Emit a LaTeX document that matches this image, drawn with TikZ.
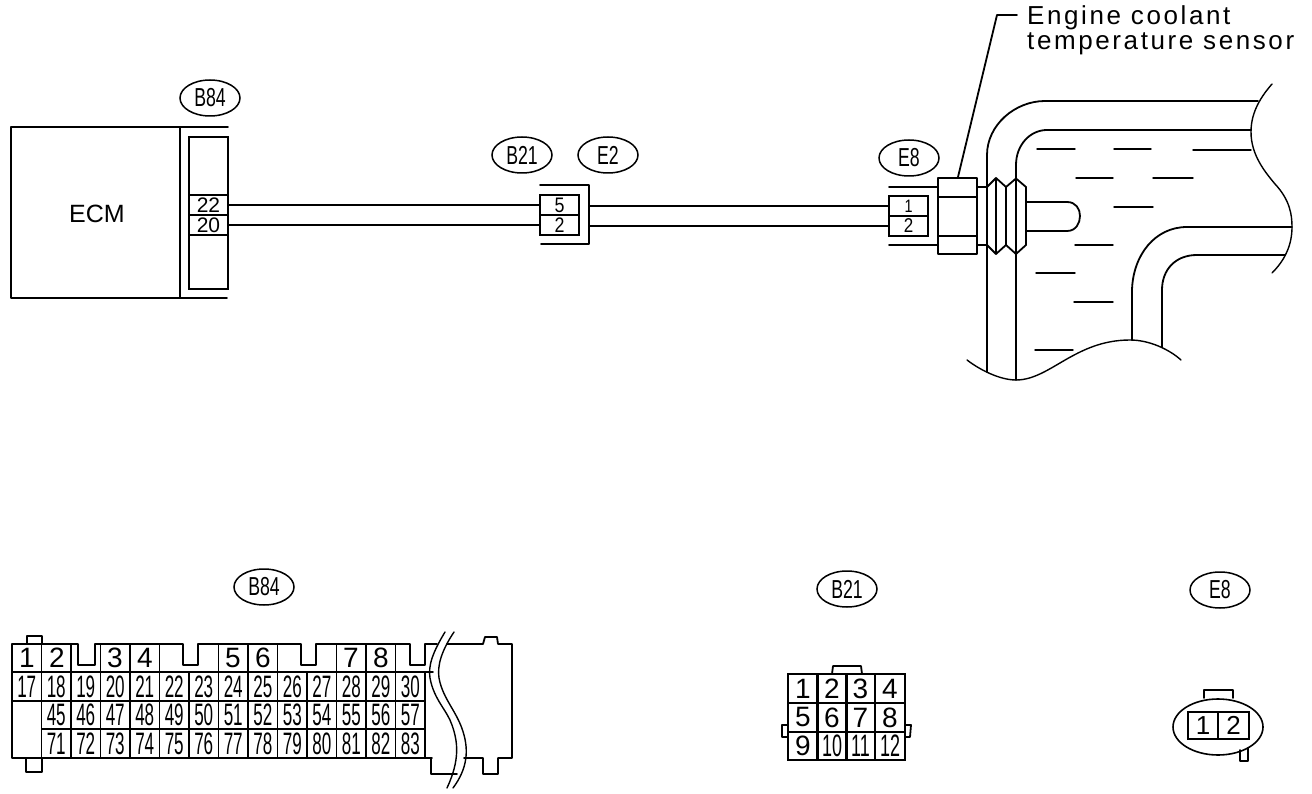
\documentclass[tikz,border=0pt]{standalone}
\usepackage{fontspec}
\usepackage{graphicx}
\setmainfont{Liberation Sans}
\usetikzlibrary{shapes.geometric}
\newcommand{\nrw}[2]{\scalebox{#1}[1]{#2}}
\tikzset{
  ln/.style={line width=1.8pt,line cap=round,line join=round},
  thinln/.style={line width=1.4pt,line cap=round,line join=round},
  tag/.style={ellipse,draw,line width=1.5pt,minimum width=60pt,minimum height=36pt,inner sep=0pt,font=\fontsize{26}{26}\selectfont},
  pin/.style={rectangle,draw,line width=1.6pt,minimum width=39pt,minimum height=19.5pt,inner sep=0pt},
  cell/.style={rectangle,draw,line width=1.8pt,minimum width=29.5pt,minimum height=28.5pt,inner sep=0pt},
  smallcell/.style={cell,font=\fontsize{31}{31}\selectfont},
  topnum/.style={inner sep=0pt,font=\fontsize{28}{28}\selectfont},
  pincell/.style={cell,minimum height=28.7pt,font=\fontsize{28}{28}\selectfont},
  liquid/.style={thinln},
}
\begin{document}
\begin{tikzpicture}[x=1pt,y=-1pt]
\useasboundingbox (0,0) rectangle (1312,794);
% ---------- upper diagram: ECM
\node[rectangle,draw=none,inner sep=0pt,font=\fontsize{25}{25}\selectfont] (ecm) at (97,214) {ECM};
\draw[ln] (228,127) -- (11,127) -- (11,298) -- (227,298);
\draw[ln] (180,127) -- (180,298);
\node[rectangle,draw,line width=1.8pt,minimum width=39pt,minimum height=152pt,inner sep=0pt] (b84conn) at (208.5,213) {};
\node[pin,font=\fontsize{21}{21}\selectfont] (p22) at (208.5,205) {22};
\node[pin,font=\fontsize{21}{21}\selectfont] (p20) at (208.5,225) {20};
\node[tag] (tagb84) at (210,98) {\nrw{.68}{B84}};
% B21/E2
\node[pin,font=\fontsize{21}{21}\selectfont] (p5) at (559.5,205) {\nrw{.85}{5}};
\node[pin,font=\fontsize{21}{21}\selectfont] (p2) at (559.5,225) {\nrw{.85}{2}};
\draw[ln] (540,185) -- (589,185) -- (589,244) -- (541,244);
\coordinate (e2a) at (589,206);
\coordinate (e2b) at (589,226);
\node[tag] (tagb21) at (522,155) {\nrw{.68}{B21}};
\node[tag] (tage2) at (608,155) {\nrw{.68}{E2}};
% E8 connector
\node[pin,font=\fontsize{18}{18}\selectfont] (e1) at (908.5,206) {\nrw{.8}{1}};
\node[pin,font=\fontsize{20}{20}\selectfont] (e2) at (908.5,226) {\nrw{.85}{2}};
\node[tag] (tage8) at (909,158) {\nrw{.68}{E8}};
\draw[ln] (p22.east) -- (p5.west);
\draw[ln] (p20.east) -- (p2.west);
\draw[ln] (e2a) -- (e1.west);
\draw[ln] (e2b) -- (e2.west);
% sensor body
\draw[ln] (889,187) -- (938,187);
\draw[ln] (889,245) -- (938,245);
\draw[ln] (938,178) rectangle (977,254);
\draw[ln] (938,197) -- (977,197);
\draw[ln] (938,236) -- (977,236);
\draw[ln] (977,187) -- (987,187);
\draw[ln] (977,245) -- (987,245);
\draw[ln] (987,187) -- (996,178) -- (1006,187) -- (1016,178.5) -- (1026,187) -- (1026,245) -- (1016,254) -- (1006,245) -- (996,254) -- (987,245);
\draw[thinln] (996,178) -- (996,254);
\draw[thinln] (1006,187) -- (1006,245);
% tip
\draw[ln] (1026,202) -- (1067,202) .. controls (1076,202) and (1080,209) .. (1080,216) .. controls (1080,223) and (1076,231) .. (1067,231) -- (1026,231);
% lead line and label
\coordinate (leadend) at (1017,15);
\coordinate (leadbase) at (958,177);
\draw[ln] (leadbase) -- (997,15) -- (leadend);
\node[anchor=base west,inner sep=0pt,font=\fontsize{26}{26}\selectfont\addfontfeatures{LetterSpace=10}] (lab1) at (1027,25) {Engine coolant};
\node[anchor=base west,inner sep=0pt,font=\fontsize{26}{26}\selectfont\addfontfeatures{LetterSpace=10}] (lab2) at (1027,50) {temperature sensor};
% pipes
\draw[ln] (987,372) -- (987,155) .. controls (987,125) and (1015,101) .. (1045,101) -- (1258,101);
\draw[ln] (1016,380) -- (1016,165) .. controls (1016,145) and (1030,130) .. (1047,130) -- (1251,130);
\draw[ln] (1292,227) -- (1187,227) .. controls (1155,227) and (1133,255) .. (1132,290) -- (1132,340);
\draw[ln] (1285,255) -- (1197,255) .. controls (1175,255) and (1162,270) .. (1162,290) -- (1162,347);
\draw[thinln] (1272,84) .. controls (1258,100) and (1251,115) .. (1251,132) .. controls (1251,155) and (1265,172) .. (1275,184) .. controls (1290,200) and (1292,215) .. (1292,227) .. controls (1292,245) and (1285,260) .. (1272,273);
\draw[thinln] (967,360) .. controls (980,370) and (1000,380) .. (1016,380) .. controls (1050,380) and (1075,340) .. (1130,340) .. controls (1150,340) and (1170,350) .. (1181,360);
% liquid dashes
\foreach \xa/\xb/\yy in {1037/1075/149,1114/1151/149,1193/1251/150,1076/1113/178,1153/1193/178,1114/1153/207,1075/1113/245,1036/1075/273,1074/1113/302,1035/1073/350}
  \draw[liquid] (\xa,\yy) -- (\xb,\yy);
% ---------- lower: B84 connector
\node[tag] (tagb84b) at (264,587) {\nrw{.68}{B84}};
\node[tag] (tagb21b) at (847,589) {\nrw{.68}{B21}};
\node[tag] (tage8b) at (1220,590) {\nrw{.68}{E8}};
% row 2
\foreach \n [count=\i from 0] in {17,...,30}
  \node[smallcell] (c\n) at ({26.75+29.5*\i},686.5) {\nrw{.55}{\n}};
\foreach \n [count=\i from 1] in {45,...,57}
  \node[smallcell] (c\n) at ({26.75+29.5*\i},715) {\nrw{.55}{\n}};
\foreach \n [count=\i from 1] in {71,...,83}
  \node[smallcell] (c\n) at ({26.75+29.5*\i},743.5) {\nrw{.55}{\n}};
% top row outline with notches
\draw[ln] (12,672) -- (12,644) -- (78,644) -- (78,665) -- (95,665) -- (95,644) -- (183,644) -- (183,665) -- (198,665) -- (198,644) -- (301,644) -- (301,665) -- (316,665) -- (316,644) -- (410,644) -- (410,665) -- (425,665) -- (425,644) -- (437,644);
\draw[ln] (12,672) -- (12,758) -- (432,758);
\draw[ln] (425,672) -- (433,672);
\foreach \xx in {41.5,71,100.5,130,159.5,218.5,248,277.5,336.5,366,395.5}
  \draw[ln] (\xx,644) -- (\xx,672);
\foreach \n/\xx in {1/27,2/57,3/115,4/145,5/233,6/263,7/351,8/381}
  \node[topnum] (t\n) at (\xx,658) {\n};
% side tabs
\draw[ln] (27,644) -- (27,636) -- (42,636) -- (42,644);
\draw[ln] (26,758) -- (26,772) -- (42,772) -- (42,758);
% right block
\draw[ln] (447,644) -- (483,644) -- (485,637) -- (497,637) -- (498,644) -- (512,644) -- (512,758) -- (498,758) -- (498,774) -- (483,774) -- (483,758) -- (464,758);
\draw[ln] (431,758) -- (431,774) -- (457,774);
% break lines
\draw[thinln] (445,632) .. controls (433,652) and (428,665) .. (430,678) .. controls (434,700) and (447,710) .. (452,725) .. controls (458,742) and (460,760) .. (447,788);
\draw[thinln] (454,632) .. controls (442,650) and (437,665) .. (439,678) .. controls (443,700) and (458,712) .. (464,735) .. controls (468,750) and (468,768) .. (453,788);
% ---------- lower: B21
\foreach \n/\cx/\cy in {1/803/688.5,2/832/688.5,3/860.5/688.5,4/890/688.5,5/803/717.5,6/832/717.5,7/860.5/717.5,8/890/717.5}
  \node[pincell] (d\n) at (\cx,\cy) {\n};
\foreach \n/\cx in {9/803,10/832,11/860.5,12/890}
  \node[pincell] (d\n) at (\cx,746) {\ifnum\n>9 \fontsize{31}{31}\selectfont\nrw{.58}{\n}\else\n\fi};
\draw[ln] (832,674) -- (833,666) -- (861,666) -- (862,674);
\draw[ln] (788,725) -- (782,725) -- (782,737) -- (788,737);
\draw[ln] (905,725) -- (911,725) -- (910,737) -- (905,737);
% ---------- lower: E8
\node[ellipse,draw,line width=1.6pt,minimum width=90pt,minimum height=56pt,inner sep=0pt] (e8shell) at (1218,727) {};
\node[rectangle,draw,line width=1.6pt,minimum width=30pt,minimum height=27pt,inner sep=0pt,font=\fontsize{26}{26}\selectfont] (f1) at (1203,725.5) {1};
\node[rectangle,draw,line width=1.6pt,minimum width=31pt,minimum height=27pt,inner sep=0pt,font=\fontsize{26}{26}\selectfont] (f2) at (1233.5,725.5) {2};
\draw[ln] (1204,698) -- (1204,690) -- (1233,690) -- (1233,698);
\draw[ln] (1240,750) -- (1240,761) -- (1248,761) -- (1248,748);
\end{tikzpicture}
\end{document}
